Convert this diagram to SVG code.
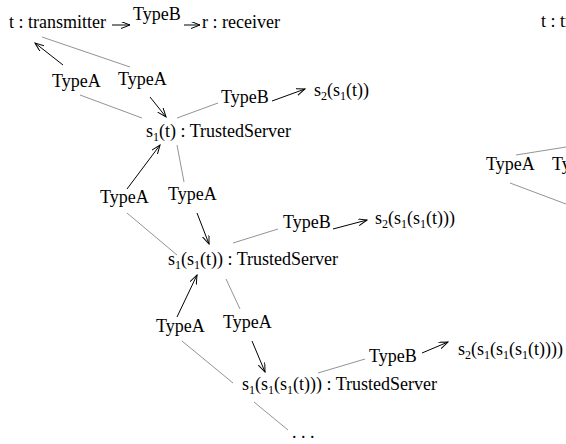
<svg xmlns="http://www.w3.org/2000/svg" width="566" height="444" viewBox="0 0 566 444">
<style>
text{font-family:"Liberation Serif","Times New Roman",serif;font-size:18px;fill:#000}
.sub{font-size:12px}
.g{stroke:#777;stroke-width:0.8;fill:none}
.a{stroke:#000;stroke-width:1;fill:none;marker-end:url(#ah)}
</style>
<defs>
<marker id="ah" markerUnits="userSpaceOnUse" markerWidth="10" markerHeight="8" refX="9" refY="3.5" orient="auto">
<path d="M0,0 L9,3.5 L0,7" fill="none" stroke="#000" stroke-width="1"/>
</marker>
</defs>
<g id="connectors">
<line class="a" x1="112" y1="25" x2="130" y2="25"/>
<line class="a" x1="184" y1="25" x2="200" y2="25"/>
<line class="g" x1="42" y1="37" x2="130" y2="67"/>
<line class="a" x1="63" y1="65" x2="35" y2="43"/>
<line class="g" x1="80" y1="95" x2="142" y2="118"/>
<line class="a" x1="150" y1="97" x2="166" y2="117"/>
<line class="g" x1="177" y1="118" x2="218" y2="103"/>
<line class="a" x1="272" y1="101" x2="305" y2="89"/>
<line class="a" x1="127" y1="189" x2="160" y2="145"/>
<line class="g" x1="177" y1="145" x2="184" y2="182"/>
<line class="g" x1="127" y1="213" x2="177" y2="255"/>
<line class="a" x1="197" y1="213" x2="209" y2="244"/>
<line class="g" x1="233" y1="243" x2="278" y2="229"/>
<line class="a" x1="333" y1="229" x2="367" y2="220"/>
<line class="a" x1="177" y1="317" x2="197" y2="275"/>
<line class="g" x1="226" y1="279" x2="240" y2="309"/>
<line class="g" x1="182" y1="341" x2="233" y2="383"/>
<line class="a" x1="252" y1="341" x2="265" y2="372"/>
<line class="g" x1="318" y1="373" x2="365" y2="359"/>
<line class="a" x1="422" y1="353" x2="448" y2="342"/>
<line class="g" x1="254" y1="402" x2="288" y2="430"/>
<line class="g" x1="516" y1="155" x2="566" y2="147"/>
<line class="g" x1="510" y1="183" x2="566" y2="204"/>
</g>
<g id="transmitter"><text x="9" y="28">t : transmitter</text></g>
<g id="typeB-top"><text x="133" y="20">TypeB</text></g>
<g id="receiver"><text x="202" y="28">r : receiver</text></g>
<g id="typeA-1a"><text x="52" y="87">TypeA</text></g>
<g id="typeA-1b"><text x="118" y="85">TypeA</text></g>
<g id="typeB-1"><text x="221" y="103">TypeB</text></g>
<g id="s2-1"><text x="314" y="96">s<tspan class="sub" dy="4">2</tspan><tspan dy="-4">(s</tspan><tspan class="sub" dy="4">1</tspan><tspan dy="-4">(t))</tspan></text></g>
<g id="server-1"><text x="146" y="137">s<tspan class="sub" dy="4">1</tspan><tspan dy="-4">(t) : TrustedServer</tspan></text></g>
<g id="typeA-2a"><text x="100" y="203">TypeA</text></g>
<g id="typeA-2b"><text x="168" y="200">TypeA</text></g>
<g id="typeB-2"><text x="283" y="228">TypeB</text></g>
<g id="s2-2"><text x="375" y="224">s<tspan class="sub" dy="4">2</tspan><tspan dy="-4">(s</tspan><tspan class="sub" dy="4">1</tspan><tspan dy="-4">(s</tspan><tspan class="sub" dy="4">1</tspan><tspan dy="-4">(t)))</tspan></text></g>
<g id="server-2"><text x="168" y="265">s<tspan class="sub" dy="4">1</tspan><tspan dy="-4">(s</tspan><tspan class="sub" dy="4">1</tspan><tspan dy="-4">(t)) : TrustedServer</tspan></text></g>
<g id="typeA-3a"><text x="156" y="332">TypeA</text></g>
<g id="typeA-3b"><text x="223" y="328">TypeA</text></g>
<g id="typeB-3"><text x="369" y="362">TypeB</text></g>
<g id="s2-3"><text x="458" y="355">s<tspan class="sub" dy="4">2</tspan><tspan dy="-4">(s</tspan><tspan class="sub" dy="4">1</tspan><tspan dy="-4">(s</tspan><tspan class="sub" dy="4">1</tspan><tspan dy="-4">(s</tspan><tspan class="sub" dy="4">1</tspan><tspan dy="-4">(t))))</tspan></text></g>
<g id="server-3"><text x="242" y="390">s<tspan class="sub" dy="4">1</tspan><tspan dy="-4">(s</tspan><tspan class="sub" dy="4">1</tspan><tspan dy="-4">(s</tspan><tspan class="sub" dy="4">1</tspan><tspan dy="-4">(t))) : TrustedServer</tspan></text></g>
<g id="ellipsis"><text x="292" y="438">. . .</text></g>
<g id="transmitter-right"><text x="541" y="27">t : transmitter</text></g>
<g id="typeA-right-a"><text x="486" y="170">TypeA</text></g>
<g id="typeA-right-b"><text x="552" y="170">TypeA</text></g>
</svg>
